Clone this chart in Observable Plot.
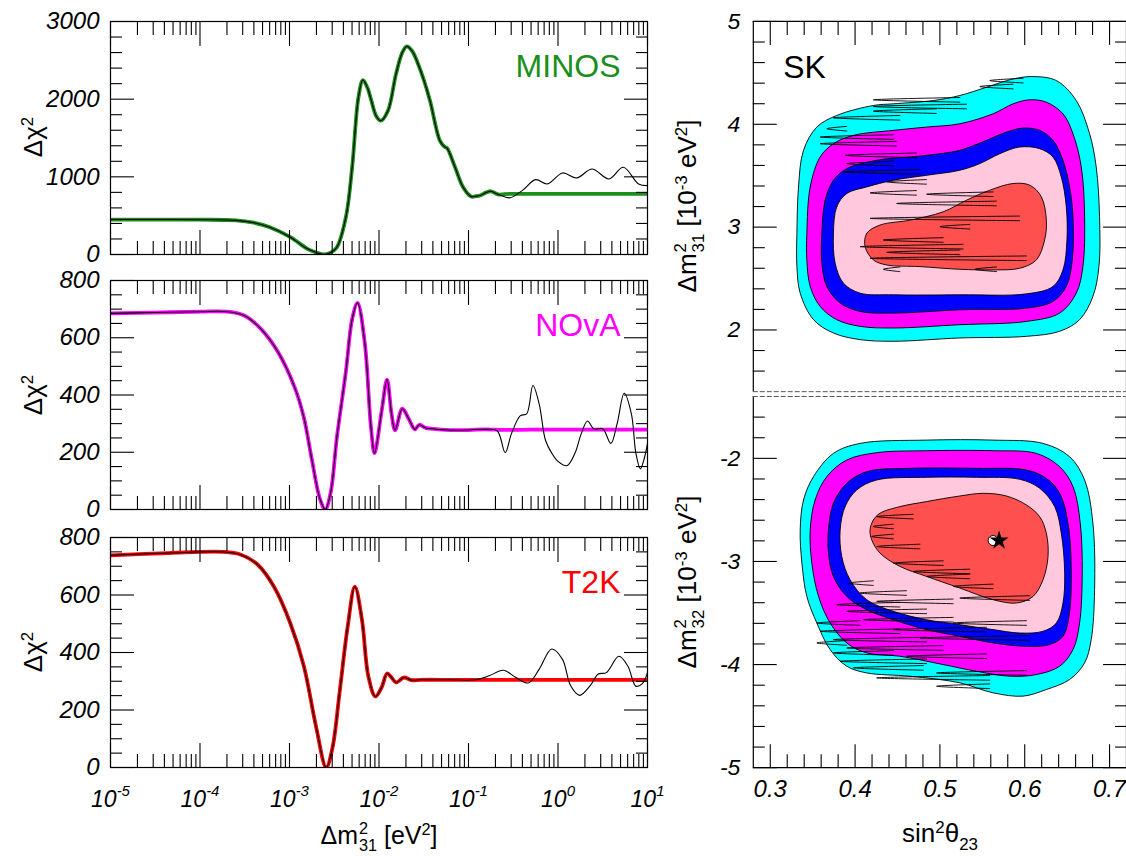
<!DOCTYPE html>
<html><head><meta charset="utf-8">
<script src="https://cdn.jsdelivr.net/npm/d3@7"></script>
<script src="https://cdn.jsdelivr.net/npm/@observablehq/plot@0.6"></script>
<style>
html,body{margin:0;padding:0;background:#fff;}
body{width:1126px;height:856px;overflow:hidden;position:relative;font-family:"Liberation Sans",Arial,Helvetica,sans-serif;color:#000}
.panel{position:absolute}
.title{position:absolute;font-size:25px;white-space:nowrap;line-height:1;transform:translate(-50%,-50%)}
.title.big{font-size:26px}
.title.rot{transform:translate(-50%,-50%) rotate(-90deg)}
.up{display:inline-block;font-size:0.65em;vertical-align:0.55em}
.dn{display:inline-block;font-size:0.65em;vertical-align:-0.45em}
.st{display:inline-block;vertical-align:-0.45em;font-size:0.65em;line-height:1.05;text-align:left;margin-left:1px}
.st>span{display:block}
</style></head><body>
<script>
const FONT = '"Liberation Sans", Arial, Helvetica, sans-serif';

// ---------------- DATA ----------------
const decadeTicks = [1e-5, 1e-4, 1e-3, 1e-2, 1e-1, 1, 10];
const decadeExponents = ["-5", "-4", "-3", "-2", "-1", "0", "1"];

// MINOS (x as log10 Δm²31)
const minosLog = [-5, -4.5, -4, -3.6, -3.4, -3.22, -2.99, -2.8, -2.7, -2.62, -2.54, -2.47, -2.37, -2.30, -2.23, -2.18, -2.13, -2.09, -2.03, -1.98, -1.90, -1.81, -1.74, -1.69, -1.63, -1.57, -1.50, -1.43, -1.32, -1.27, -1.24, -1.15, -1.06, -0.97, -0.92, -0.87, -0.80, -0.75, -0.70, -0.66];
const minosChi = [450, 450, 448, 440, 410, 351, 223, 73, 25, 0, 25, 94, 480, 1123, 2023, 2246, 2150, 2000, 1780, 1723, 1851, 2323, 2600, 2679, 2620, 2473, 2250, 1980, 1466, 1390, 1370, 1123, 866, 746, 750, 759, 800, 814, 790, 771];
const minosColorTailLog = [-0.6, -0.3, 0, 0.5, 1];
const minosColorTailChi = [778, 780, 780, 780, 780];
const minosBlackTailLog = [-0.54, -0.40, -0.25, -0.12, 0.05, 0.21, 0.38, 0.57, 0.73, 0.90, 1.0];
const minosBlackTailChi = [729, 823, 964, 909, 1050, 986, 1101, 973, 1123, 909, 887];

// NOvA
const novaLog = [-5, -4.5, -4, -3.69, -3.50, -3.32, -3.13, -2.94, -2.84, -2.75, -2.66, -2.60, -2.54, -2.47, -2.37, -2.30, -2.24, -2.16, -2.09, -2.05, -1.97, -1.91, -1.86, -1.82, -1.74, -1.67, -1.60, -1.55, -1.48, -1.40, -1.30, -1.1, -0.82];
const novaChi = [685, 688, 691, 691, 677, 631, 551, 425, 322, 174, 37, 0, 59, 254, 482, 665, 722, 585, 288, 197, 345, 454, 334, 277, 352, 318, 280, 296, 285, 282, 279, 277, 280];
const novaColorTailLog = [-0.6, -0.3, 0, 0.5, 1];
const novaColorTailChi = [278, 279, 279, 279, 279];
const novaBlackTailLog = [-0.68, -0.59, -0.52, -0.42, -0.35, -0.28, -0.21, -0.14, -0.07, 0.0, 0.10, 0.19, 0.26, 0.33, 0.40, 0.50, 0.59, 0.66, 0.74, 0.82, 0.87, 0.92, 0.96, 1.0];
const novaBlackTailChi = [275, 199, 265, 328, 334, 433, 368, 242, 197, 168, 153, 197, 265, 309, 282, 282, 231, 299, 406, 334, 197, 142, 174, 231];

// T2K
const t2kLog = [-5, -4.35, -3.74, -3.55, -3.36, -3.17, -2.99, -2.84, -2.70, -2.59, -2.52, -2.44, -2.35, -2.27, -2.19, -2.12, -2.04, -1.97, -1.91, -1.86, -1.81, -1.72, -1.64, -1.53, -1.2, -0.92];
const t2kChi = [738, 746, 750, 741, 707, 627, 501, 353, 137, 0, 68, 262, 490, 629, 513, 319, 247, 279, 327, 313, 296, 313, 304, 305, 305, 305];
const t2kColorTailLog = [-0.6, -0.3, 0, 0.5, 1];
const t2kColorTailChi = [305, 305, 305, 305, 305];
const t2kBlackTailLog = [-0.77, -0.61, -0.47, -0.33, -0.21, -0.07, 0.05, 0.14, 0.24, 0.36, 0.45, 0.54, 0.68, 0.78, 0.87, 0.94, 1.0];
const t2kBlackTailChi = [319, 338, 313, 294, 342, 412, 376, 285, 251, 285, 325, 330, 387, 353, 283, 291, 330];

// SK filled contours, [sin²θ23, Δm² (10^-3 eV²)]
const skUpCyan = [[0.3314,2.939],[0.3333,3.391],[0.3392,3.747],[0.3549,3.973],[0.3784,4.086],[0.4216,4.183],[0.4451,4.199],[0.4922,4.231],[0.5235,4.280],[0.5549,4.360],[0.5863,4.441],[0.6098,4.464],[0.6373,4.425],[0.6608,4.231],[0.6765,3.908],[0.6843,3.585],[0.6882,3.101],[0.6875,2.616],[0.6804,2.326],[0.6647,2.100],[0.6412,1.987],[0.6020,1.938],[0.5235,1.922],[0.4451,1.890],[0.4059,1.906],[0.3745,1.970],[0.3510,2.100],[0.3353,2.358],[0.3314,2.616]];
const skUpMagenta = [[0.3431,2.939],[0.3471,3.391],[0.3588,3.682],[0.3745,3.811],[0.3980,3.892],[0.4451,3.941],[0.4843,3.973],[0.5235,4.005],[0.5627,4.102],[0.5863,4.199],[0.6059,4.238],[0.6255,4.215],[0.6451,4.102],[0.6569,3.908],[0.6667,3.585],[0.6706,3.101],[0.6686,2.616],[0.6608,2.358],[0.6412,2.164],[0.6020,2.083],[0.5235,2.051],[0.4451,2.019],[0.4059,2.035],[0.3784,2.100],[0.3588,2.229],[0.3471,2.423],[0.3431,2.681]];
const skUpBlue = [[0.3608,2.939],[0.3647,3.262],[0.3745,3.456],[0.3902,3.569],[0.4255,3.650],[0.4843,3.698],[0.5235,3.747],[0.5549,3.844],[0.5784,3.924],[0.5980,3.963],[0.6176,3.941],[0.6333,3.844],[0.6451,3.650],[0.6529,3.391],[0.6569,3.101],[0.6561,2.681],[0.6490,2.423],[0.6333,2.277],[0.6020,2.212],[0.5235,2.196],[0.4451,2.164],[0.4059,2.180],[0.3824,2.261],[0.3667,2.423],[0.3608,2.649]];
const skUpPink = [[0.3745,2.939],[0.3784,3.198],[0.3902,3.327],[0.4137,3.391],[0.4451,3.456],[0.4843,3.504],[0.5235,3.553],[0.5471,3.618],[0.5706,3.714],[0.5941,3.779],[0.6176,3.763],[0.6333,3.682],[0.6431,3.488],[0.6490,3.198],[0.6498,2.875],[0.6451,2.584],[0.6333,2.423],[0.6020,2.351],[0.5235,2.342],[0.4451,2.342],[0.4059,2.358],[0.3863,2.455],[0.3765,2.649]];
const skUpRed = [[0.4118,2.810],[0.4137,2.939],[0.4294,3.020],[0.4647,3.068],[0.5039,3.149],[0.5314,3.262],[0.5588,3.359],[0.5863,3.424],[0.6059,3.408],[0.6196,3.295],[0.6255,3.068],[0.6235,2.875],[0.6137,2.681],[0.5941,2.600],[0.5627,2.584],[0.5235,2.590],[0.4765,2.616],[0.4373,2.632],[0.4216,2.681]];

const skLoCyan = [[0.3353,-2.694],[0.3392,-2.403],[0.3510,-2.177],[0.3745,-1.952],[0.4059,-1.855],[0.4843,-1.823],[0.5627,-1.823],[0.6216,-1.855],[0.6529,-1.984],[0.6706,-2.210],[0.6804,-2.629],[0.6824,-3.274],[0.6784,-3.758],[0.6706,-3.984],[0.6529,-4.145],[0.6255,-4.242],[0.5980,-4.306],[0.5627,-4.274],[0.5235,-4.177],[0.4647,-4.113],[0.4137,-4.081],[0.3902,-4.016],[0.3706,-3.855],[0.3549,-3.597],[0.3431,-3.339],[0.3373,-3.016]];
const skLoMagenta = [[0.3471,-2.694],[0.3529,-2.403],[0.3667,-2.177],[0.3902,-2.016],[0.4255,-1.945],[0.4843,-1.926],[0.5627,-1.926],[0.6137,-1.952],[0.6412,-2.081],[0.6569,-2.274],[0.6655,-2.629],[0.6678,-3.113],[0.6647,-3.597],[0.6569,-3.855],[0.6412,-4.016],[0.6137,-4.097],[0.5824,-4.113],[0.5431,-4.065],[0.5039,-4.000],[0.4529,-3.919],[0.4137,-3.887],[0.3902,-3.790],[0.3706,-3.597],[0.3569,-3.339],[0.3490,-3.016]];
const skLoBlue = [[0.3686,-2.694],[0.3745,-2.435],[0.3902,-2.242],[0.4137,-2.129],[0.4647,-2.097],[0.5431,-2.097],[0.6020,-2.113],[0.6255,-2.194],[0.6412,-2.339],[0.6510,-2.629],[0.6549,-3.113],[0.6522,-3.532],[0.6451,-3.726],[0.6294,-3.806],[0.6020,-3.823],[0.5627,-3.790],[0.5235,-3.726],[0.4843,-3.661],[0.4451,-3.565],[0.4137,-3.468],[0.3902,-3.339],[0.3745,-3.145],[0.3686,-2.919]];
const skLoPink = [[0.3824,-2.694],[0.3882,-2.468],[0.4020,-2.306],[0.4255,-2.210],[0.4843,-2.184],[0.5431,-2.184],[0.5941,-2.203],[0.6176,-2.290],[0.6353,-2.468],[0.6431,-2.726],[0.6471,-3.113],[0.6451,-3.403],[0.6373,-3.597],[0.6216,-3.677],[0.5941,-3.694],[0.5627,-3.661],[0.5235,-3.613],[0.4843,-3.565],[0.4451,-3.484],[0.4137,-3.371],[0.3941,-3.177],[0.3843,-2.952]];
const skLoRed = [[0.4176,-2.694],[0.4216,-2.597],[0.4294,-2.532],[0.4529,-2.468],[0.4843,-2.419],[0.5235,-2.365],[0.5510,-2.339],[0.5784,-2.365],[0.6020,-2.452],[0.6176,-2.565],[0.6255,-2.726],[0.6275,-2.952],[0.6216,-3.177],[0.6098,-3.339],[0.5902,-3.403],[0.5627,-3.371],[0.5235,-3.258],[0.4843,-3.145],[0.4529,-3.048],[0.4294,-2.919],[0.4196,-2.790]];

// Thin horizontal spikes of the black (second-analysis) contours: [Δm², sin²θ23 base, sin²θ23 tip]
const skUpSpikes = [[4.425,0.5980,0.5588],[4.367,0.5863,0.5471],[4.238,0.5235,0.4216],[4.173,0.5314,0.4216],[4.128,0.4961,0.4216],[4.063,0.4529,0.3745],[3.957,0.3902,0.3667],[3.876,0.4451,0.3588],[3.811,0.4490,0.3588],[3.698,0.4725,0.3882],[3.618,0.4451,0.3902],[3.537,0.4765,0.3863],[3.440,0.4843,0.4373],[3.333,0.4725,0.4176],[3.320,0.5627,0.4843],[3.230,0.5667,0.4490],[3.085,0.5941,0.4176],[3.004,0.5353,0.5000],[2.875,0.5039,0.4333],[2.810,0.5275,0.4059],[2.755,0.5235,0.4373],[2.697,0.6020,0.4176],[2.590,0.4529,0.4333],[2.590,0.5667,0.5412]];
const skLoSpikes = [[-2.565,0.4686,0.4255],[-2.661,0.4451,0.4216],[-2.758,0.4451,0.4196],[-2.855,0.4765,0.4255],[-3.016,0.5039,0.4451],[-3.097,0.5353,0.4686],[-3.145,0.5353,0.4843],[-3.242,0.5627,0.5157],[-3.355,0.6059,0.5235],[-3.210,0.4216,0.3922],[-3.306,0.4608,0.4059],[-3.387,0.5157,0.4255],[-3.597,0.6020,0.5157],[-3.419,0.4529,0.3784],[-3.484,0.4843,0.3902],[-3.565,0.5157,0.4098],[-3.661,0.5549,0.4451],[-3.742,0.6059,0.4765],[-3.597,0.4059,0.3549],[-3.677,0.4529,0.3588],[-3.758,0.4843,0.3745],[-3.839,0.5039,0.3902],[-3.919,0.5549,0.4608],[-4.081,0.6020,0.4961],[-3.790,0.3902,0.3549],[-3.887,0.4451,0.3745],[-3.968,0.4843,0.3824],[-4.032,0.4804,0.3980],[-4.129,0.5588,0.4255],[-4.210,0.5588,0.4961]];
const skSpikeThickness = 0.045;

const skBestFit = [[0.5627, -2.797]];
const skStar = [[0.5698, -2.797]];

const skLevelColors = ["#00ffff", "#ff00ff", "#0000ff", "#ffc8dc", "#ff5050"];

// ---------------- HELPERS ----------------
const root = document.body;
function place(node, left, top) {
  const d = document.createElement("div");
  d.className = "panel";
  d.style.left = left + "px"; d.style.top = top + "px";
  d.appendChild(node); root.appendChild(d);
  return d;
}
function title(html, cx, cy, cls) {
  const d = document.createElement("div");
  d.className = "title " + (cls || "");
  d.style.left = cx + "px"; d.style.top = cy + "px";
  d.innerHTML = html; root.appendChild(d);
}
const pts = (logs, vals) => logs.map((l, i) => ({x: Math.pow(10, l), y: vals[i]}));
const decadeMinor = [];
for (let e = -5; e < 1; e++) for (let k = 2; k <= 9; k++) decadeMinor.push(k * Math.pow(10, e));
const noText = () => "";
const plain = d => String(d);
const tick = (Axis, data, anchor, size) => Axis(data, {anchor, tickSize: size, tickFormat: noText, label: null, strokeWidth: 1.1});

function leftPanel(o) {
  const colorLine = pts(o.log.concat(o.cTailLog), o.chi.concat(o.cTailChi));
  const blackLine = pts(o.log.concat(o.bTailLog), o.chi.concat(o.bTailChi));
  const marks = [
    Plot.line(colorLine, {x: "x", y: "y", stroke: o.color, strokeWidth: 3.8, curve: "catmull-rom", clip: true}),
    Plot.line(blackLine, {x: "x", y: "y", stroke: "black", strokeWidth: 1.1, curve: "catmull-rom", clip: true}),
    tick(Plot.axisX, decadeMinor, "bottom", -13), tick(Plot.axisX, decadeTicks, "bottom", -24),
    tick(Plot.axisX, decadeMinor, "top", -13), tick(Plot.axisX, decadeTicks, "top", -24),
    tick(Plot.axisY, o.yMinor, "left", -12), tick(Plot.axisY, o.yMajor, "left", -24),
    tick(Plot.axisY, o.yMinor, "right", -12), tick(Plot.axisY, o.yMajor, "right", -24),
    Plot.axisY(o.yMajor, {anchor: "left", tickSize: 0, tickPadding: 11, fontSize: 24, fontStyle: "italic", label: null, tickFormat: plain}),
    Plot.frame({stroke: "black", strokeWidth: 1.2}),
    Plot.text([o.name], {text: d => d, frameAnchor: "top-right", dx: -27, dy: 33, textAnchor: "end", lineAnchor: "top", fill: o.color, fontSize: 32})
  ];
  if (o.showX) marks.push(Plot.axisX(decadeTicks, {anchor: "bottom", tickSize: 0, tickPadding: 23, fontSize: 23, fontStyle: "italic", label: null,
      tickFormat: d => decadeExponents[decadeTicks.indexOf(d)]}));
  const svg = Plot.plot({
    width: 660, height: o.height, marginLeft: 110, marginRight: 13, marginTop: o.mt, marginBottom: o.mb,
    x: {type: "log", domain: [1e-5, 10]},
    y: {domain: o.yDomain},
    style: {fontFamily: FONT, background: "transparent", overflow: "visible", color: "black"},
    marks
  });
  if (o.showX) {
    d3.select(svg).selectAll('g[aria-label="x-axis tick label"] text').each(function () {
      const e = this.textContent;
      if (!e) return;
      const t = d3.select(this);
      t.text("");
      t.append("tspan").text("10");
      t.append("tspan").attr("dy", -11).attr("font-size", 15).text(e);
    });
  }
  place(svg, 0, o.top);
}

leftPanel({top: 0, height: 275, mt: 21, mb: 21, yDomain: [0, 3000], yMajor: [0, 1000, 2000, 3000],
  yMinor: [200, 400, 600, 800, 1200, 1400, 1600, 1800, 2200, 2400, 2600, 2800],
  color: "#1a8f1a", name: "MINOS", log: minosLog, chi: minosChi, cTailLog: minosColorTailLog, cTailChi: minosColorTailChi,
  bTailLog: minosBlackTailLog, bTailChi: minosBlackTailChi});
leftPanel({top: 260, height: 260, mt: 20, mb: 11, yDomain: [0, 800], yMajor: [0, 200, 400, 600, 800],
  yMinor: [50, 100, 150, 250, 300, 350, 450, 500, 550, 650, 700, 750],
  color: "#ff00ff", name: "NOvA", log: novaLog, chi: novaChi, cTailLog: novaColorTailLog, cTailChi: novaColorTailChi,
  bTailLog: novaBlackTailLog, bTailChi: novaBlackTailChi});
leftPanel({top: 515, height: 341, mt: 22, mb: 89, yDomain: [0, 800], yMajor: [0, 200, 400, 600, 800],
  yMinor: [50, 100, 150, 250, 300, 350, 450, 500, 550, 650, 700, 750],
  color: "#ff0000", name: "T2K", log: t2kLog, chi: t2kChi, cTailLog: t2kColorTailLog, cTailChi: t2kColorTailChi,
  bTailLog: t2kBlackTailLog, bTailChi: t2kBlackTailChi, showX: true});

// ---------------- SK panels ----------------
const sinDomain = [0.28, 0.72];
const sinMajor = [0.3, 0.4, 0.5, 0.6, 0.7];
const sinMinor = [0.32, 0.34, 0.36, 0.38, 0.42, 0.44, 0.46, 0.48, 0.52, 0.54, 0.56, 0.58, 0.62, 0.64, 0.66, 0.68, 0.70];
const dm31Domain = [1.4, 5];
const dm31Major = [2, 3, 4, 5];
const dm31Minor = [1.6, 1.8, 2.2, 2.4, 2.6, 2.8, 3.2, 3.4, 3.6, 3.8, 4.2, 4.4, 4.6, 4.8];
const dm32Domain = [-5, -1.4];
const dm32Major = [-2, -3, -4, -5];
const dm32Minor = [-1.6, -1.8, -2.2, -2.4, -2.6, -2.8, -3.2, -3.4, -3.6, -3.8, -4.2, -4.4, -4.6, -4.8];

const px = d => d[0], py = d => d[1];
function contourMarks(levels, spikes) {
  const m = [];
  levels.forEach((poly, i) => m.push(Plot.line(poly, {x: px, y: py, fill: skLevelColors[i], stroke: "none", curve: "catmull-rom-closed"})));
  levels.forEach(poly => m.push(Plot.line(poly, {x: px, y: py, fill: "none", stroke: "black", strokeWidth: 0.9, curve: "catmull-rom-closed"})));
  // each spike: a thin horizontal loop from its base out to its tip and back
  const loops = [];
  spikes.forEach(([y, xb, xt], k) => {
    loops.push({k, x: xb, y: y + skSpikeThickness / 2}, {k, x: xt, y}, {k, x: xb, y: y - skSpikeThickness / 2});
  });
  m.push(Plot.line(loops, {x: "x", y: "y", z: "k", stroke: "black", strokeWidth: 0.9, curve: "catmull-rom"}));
  return m;
}

function skPanel(o) {
  const marks = [
    ...contourMarks(o.levels, o.spikes),
    tick(Plot.axisY, o.yMinor, "left", -12), tick(Plot.axisY, o.yMajor, "left", -24),
    tick(Plot.axisY, o.yMinor, "right", -12), tick(Plot.axisY, o.yMajor, "right", -24),
    tick(Plot.axisX, sinMinor, o.xAnchor, -13), tick(Plot.axisX, sinMajor, o.xAnchor, -23),
    Plot.axisY(o.yMajor, {anchor: "left", tickSize: 0, tickPadding: 13, fontSize: 23, fontStyle: "italic", label: null, tickFormat: plain}),
    Plot.ruleX(sinDomain, {stroke: "black", strokeWidth: 1.2}),
    Plot.ruleY([o.solidEdge], {stroke: "black", strokeWidth: 1.2}),
    Plot.ruleY([o.dashedEdge], {stroke: "#555", strokeWidth: 1, strokeDasharray: "5,2"})
  ];
  if (o.extra) marks.push(...o.extra);
  const svg = Plot.plot({
    width: 467, height: o.height, marginLeft: 93, marginRight: 0, marginTop: o.mt, marginBottom: o.mb,
    x: {domain: sinDomain}, y: {domain: o.yDomain},
    style: {fontFamily: FONT, background: "transparent", overflow: "visible", color: "black"},
    marks
  });
  place(svg, 660, o.top);
}

skPanel({top: 0, height: 400, mt: 21, mb: 8, yDomain: dm31Domain, yMajor: dm31Major, yMinor: dm31Minor,
  xAnchor: "top", solidEdge: 5, dashedEdge: 1.4,
  levels: [skUpCyan, skUpMagenta, skUpBlue, skUpPink, skUpRed], spikes: skUpSpikes,
  extra: [Plot.text(["SK"], {text: d => d, frameAnchor: "top-left", dx: 30, dy: 34, lineAnchor: "top", textAnchor: "start", fill: "black", fontSize: 32})]});

skPanel({top: 390, height: 466, mt: 6, mb: 88, yDomain: dm32Domain, yMajor: dm32Major, yMinor: dm32Minor,
  xAnchor: "bottom", solidEdge: -5, dashedEdge: -1.4,
  levels: [skLoCyan, skLoMagenta, skLoBlue, skLoPink, skLoRed], spikes: skLoSpikes,
  extra: [
    Plot.axisX(sinMajor, {anchor: "bottom", tickSize: 0, tickPadding: 12, fontSize: 24, fontStyle: "italic", label: null, tickFormat: d => d.toFixed(1)}),
    Plot.dot(skBestFit, {x: px, y: py, r: 5, fill: "white", stroke: "black", strokeWidth: 1}),
    Plot.dot(skStar, {x: px, y: py, symbol: "star", r: 6, fill: "black"})
  ]});

// ---------------- titles ----------------
const dchi = 'Δχ<span class="up">2</span>';
title(dchi, 33, 137, "rot big");
title(dchi, 33, 395, "rot big");
title(dchi, 33, 652, "rot big");
title('Δm<span class="st"><span>2</span><span>31</span></span> [eV<span class="up">2</span>]', 379, 837, "");
title('sin<span class="up">2</span>θ<span class="dn">23</span>', 940, 837, "big");
title('Δm<span class="st"><span>2</span><span>31</span></span> [10<span class="up">-3</span> eV<span class="up">2</span>]', 690, 206, "rot big");
title('Δm<span class="st"><span>2</span><span>32</span></span> [10<span class="up">-3</span> eV<span class="up">2</span>]', 690, 582, "rot big");
</script></body></html>
